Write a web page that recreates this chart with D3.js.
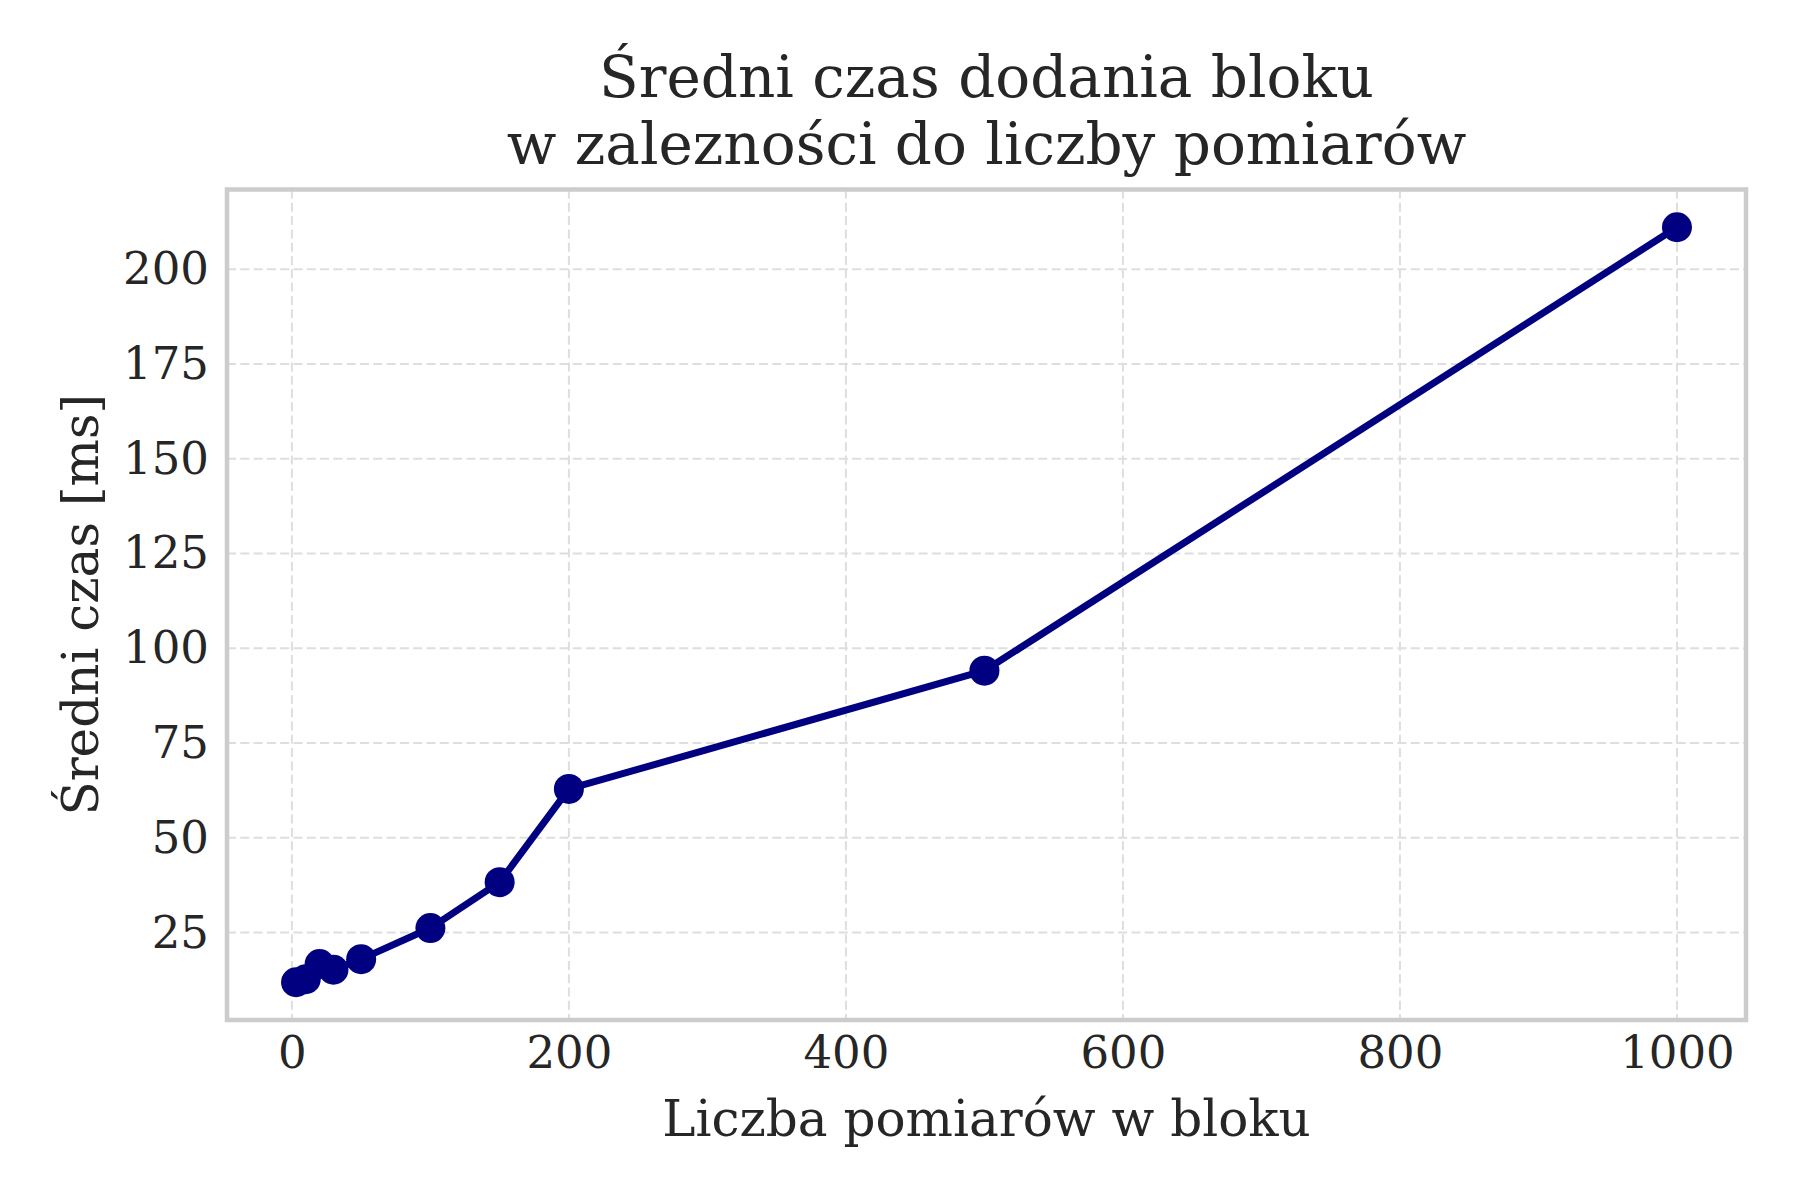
<!DOCTYPE html>
<html>
<head>
<meta charset="utf-8">
<script src="https://cdn.jsdelivr.net/npm/d3@7"></script>
<style>
  html, body { margin: 0; padding: 0; background: #ffffff; }
  svg { display: block; }
  text { font-family: "DejaVu Serif", serif; fill: #262626; }
</style>
</head>
<body>
<svg id="chart" width="1800" height="1200"></svg>
<script>
// ---- data ----
const blockSizes = [3, 10, 20, 30, 50, 100, 150, 200, 500, 1000];
const meanTimes  = [11.9, 12.7, 16.7, 15.2, 18.0, 26.2, 38.3, 62.9, 94.1, 211.1];
const xTicks = [0, 200, 400, 600, 800, 1000];
const yTicks = [25, 50, 75, 100, 125, 150, 175, 200];
const titleLines = ["Średni czas dodania bloku", "w zalezności do liczby pomiarów"];
const xLabel = "Liczba pomiarów w bloku";
const yLabel = "Średni czas [ms]";

// ---- layout ----
const W = 1800, H = 1200;
const plot = { left: 227, right: 1746, top: 189.5, bottom: 1020 };
const navy = "#000080";

const svg = d3.select("#chart");
svg.append("rect").attr("width", W).attr("height", H).attr("fill", "#ffffff");

function padded(ext) {
  const r = ext[1] - ext[0];
  return [ext[0] - 0.05 * r, ext[1] + 0.05 * r];
}
const x = d3.scaleLinear().domain(padded(d3.extent(blockSizes))).range([plot.left, plot.right]);
const y = d3.scaleLinear().domain(padded(d3.extent(meanTimes))).range([plot.bottom, plot.top]);

// clip
svg.append("defs").append("clipPath").attr("id", "clip")
  .append("rect")
  .attr("x", plot.left).attr("y", plot.top)
  .attr("width", plot.right - plot.left).attr("height", plot.bottom - plot.top);

// grid
const grid = svg.append("g").attr("clip-path", "url(#clip)");
grid.selectAll("line.vx").data(xTicks).enter().append("line")
  .attr("x1", d => x(d)).attr("x2", d => x(d))
  .attr("y1", plot.top).attr("y2", plot.bottom)
  .attr("stroke", "#dedede").attr("stroke-width", 2).attr("stroke-dasharray", "9,4.3");
grid.selectAll("line.hy").data(yTicks).enter().append("line")
  .attr("x1", plot.left).attr("x2", plot.right)
  .attr("y1", d => y(d)).attr("y2", d => y(d))
  .attr("stroke", "#dedede").attr("stroke-width", 2).attr("stroke-dasharray", "9,4.3");

// axes (labels only, no tick marks)
const xAxis = svg.append("g")
  .attr("transform", `translate(0,${plot.bottom})`)
  .call(d3.axisBottom(x).tickValues(xTicks).tickSize(0).tickPadding(16).tickFormat(d3.format("d")));
xAxis.select(".domain").remove();
xAxis.selectAll("text").attr("font-size", 45).attr("font-family", "DejaVu Serif").attr("fill", "#262626")
  .attr("dy", "0.71em");

const yAxis = svg.append("g")
  .attr("transform", `translate(${plot.left},0)`)
  .call(d3.axisLeft(y).tickValues(yTicks).tickSize(0).tickPadding(18).tickFormat(d3.format("d")));
yAxis.select(".domain").remove();
yAxis.selectAll("text").attr("font-size", 45).attr("font-family", "DejaVu Serif").attr("fill", "#262626");

// data line + markers
const pts = blockSizes.map((b, i) => [b, meanTimes[i]]);
const line = d3.line().x(d => x(d[0])).y(d => y(d[1]));
const marks = svg.append("g").attr("clip-path", "url(#clip)");
marks.append("path").datum(pts)
  .attr("d", line).attr("fill", "none")
  .attr("stroke", navy).attr("stroke-width", 7).attr("stroke-linejoin", "round").attr("stroke-linecap", "butt");
marks.selectAll("circle").data(pts).enter().append("circle")
  .attr("cx", d => x(d[0])).attr("cy", d => y(d[1])).attr("r", 15)
  .attr("fill", navy);

// frame
svg.append("rect")
  .attr("x", plot.left).attr("y", plot.top)
  .attr("width", plot.right - plot.left).attr("height", plot.bottom - plot.top)
  .attr("fill", "none").attr("stroke", "#cccccc").attr("stroke-width", 4.5);

// title
const cx = (plot.left + plot.right) / 2;
const title = svg.append("text").attr("text-anchor", "middle").attr("font-size", 58);
title.selectAll("tspan").data(titleLines).enter().append("tspan")
  .attr("x", cx).attr("y", (d, i) => 97 + i * 66.5).text(d => d);

// axis labels
svg.append("text").attr("x", cx).attr("y", 1136).attr("text-anchor", "middle")
  .attr("font-size", 50).text(xLabel);
svg.append("text")
  .attr("transform", `translate(98,${(plot.top + plot.bottom) / 2}) rotate(-90)`)
  .attr("text-anchor", "middle").attr("font-size", 50).text(yLabel);
</script>
</body>
</html>
